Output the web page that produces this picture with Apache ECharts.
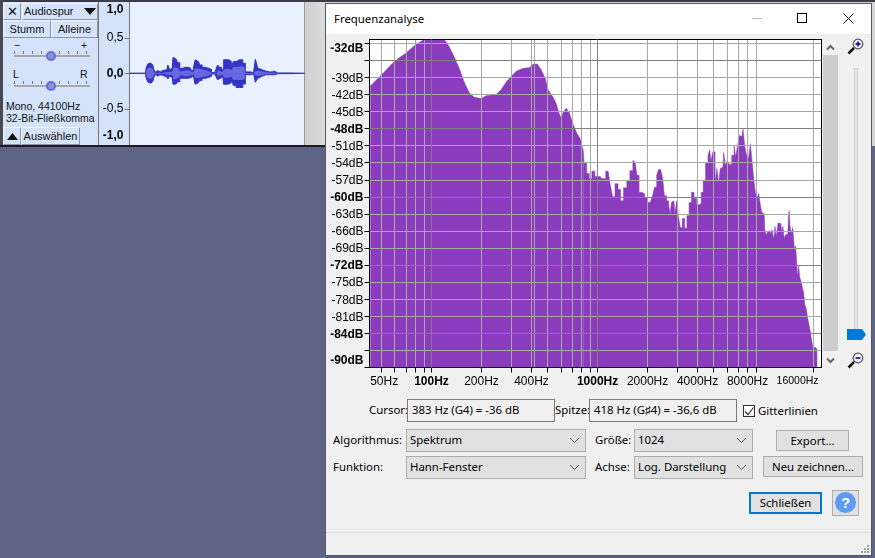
<!DOCTYPE html>
<html><head><meta charset="utf-8">
<script src="https://cdn.jsdelivr.net/npm/echarts@6/dist/echarts.min.js"></script>
<style>
html,body{margin:0;padding:0;width:875px;height:558px;overflow:hidden;background:#5f6486;}
.a{position:absolute;box-sizing:border-box;}
.t{position:absolute;white-space:nowrap;font:11.4px/16px "Noto Sans",sans-serif;color:#000;}
.l{position:absolute;white-space:nowrap;font:10.5px/14px "Liberation Sans",sans-serif;color:#111;}
.btn{position:absolute;box-sizing:border-box;background:#e1e1e1;border:1px solid #adadad;font:11.4px/19px "Noto Sans",sans-serif;text-align:center;}
.sel{position:absolute;box-sizing:border-box;background:#e1e1e1;border:1px solid #adadad;font:11.4px/20px "Noto Sans",sans-serif;padding-left:3px;}
.sel svg{position:absolute;right:5px;top:7px;}
.tb{position:absolute;box-sizing:border-box;background:#d4e3fa;border:1px solid #f4f7fd;border-right-color:#8d94a4;border-bottom-color:#8d94a4;text-align:center;font:11px/17px "Liberation Sans",sans-serif;color:#111;}
.box{position:absolute;box-sizing:border-box;background:#f0f0f0;border:1px solid #7a7a7a;font:11.4px/20px "Noto Sans",sans-serif;padding-left:4px;white-space:nowrap;}
.track{position:absolute;height:2px;background:#a8a8a8;}
.marks{position:absolute;height:3px;background:repeating-linear-gradient(90deg,#777 0 1px,transparent 1px 9px);}
.thumb{position:absolute;width:10px;height:10px;border-radius:50%;background:#8f95c7;border:2px solid #5f6fe0;box-sizing:border-box;}
</style></head><body>
<!-- track strip -->
<div class="a" style="left:0;top:0;width:875px;height:146px;background:#d6d6d6;"></div>
<div class="a" style="left:0;top:0;width:875px;height:2px;background:#3c3c46;"></div>
<div class="a" style="left:0;top:0;width:3px;height:146px;background:#4a4a55;"></div>
<div class="a" style="left:3px;top:2px;width:96px;height:143px;background:#d4e3fa;"></div>
<div class="a" style="left:99px;top:2px;width:30px;height:143px;background:#d4e3fa;"></div>
<div class="a" style="left:129px;top:2px;width:176px;height:143px;background:#e8f1fd;border-left:1px solid #777;border-right:1px solid #999;"></div>
<div class="a" style="left:98px;top:2px;width:1px;height:143px;background:#777;"></div>
<div class="a" style="left:305px;top:2px;width:21px;height:143px;background:linear-gradient(90deg,#d0d0d0,#dcdcdc);"></div>
<div class="a" style="left:0;top:145px;width:330px;height:2px;background:#1c1c22;"></div>
<div class="tb" style="left:3px;top:3px;width:18px;height:17px;font-size:13px;line-height:15px;">✕</div>
<div class="tb" style="left:22px;top:3px;width:76px;height:17px;text-align:left;padding-left:1px;line-height:15px;">Audiospur</div>
<svg class="a" style="left:84px;top:8px" width="12" height="7"><polygon points="0,0 12,0 6,7" fill="#111"/></svg>
<div class="tb" style="left:3px;top:20px;width:48px;height:18px;">Stumm</div>
<div class="tb" style="left:51px;top:20px;width:47px;height:18px;">Alleine</div>
<div class="l" style="left:14px;top:38px;">−</div><div class="l" style="left:81px;top:38px;">+</div>
<div class="marks" style="left:14px;top:51px;width:76px;"></div><div class="track" style="left:14px;top:55px;width:76px;"></div>
<div class="thumb" style="left:46px;top:51px;"></div>
<div class="l" style="left:13px;top:67px;">L</div><div class="l" style="left:80px;top:67px;">R</div>
<div class="marks" style="left:14px;top:81px;width:76px;"></div><div class="track" style="left:14px;top:85px;width:76px;"></div>
<div class="thumb" style="left:46px;top:81px;"></div>
<div class="l" style="left:6px;top:99px;">Mono, 44100Hz</div>
<div class="l" style="left:6px;top:111px;">32-Bit-Fließkomma</div>
<div class="tb" style="left:3px;top:127px;width:18px;height:18px;"></div>
<svg class="a" style="left:7px;top:133px" width="11" height="7"><polygon points="0,7 11,7 5.5,0" fill="#111"/></svg>
<div class="tb" style="left:21px;top:127px;width:59px;height:18px;">Auswählen</div>

<!-- dialog -->
<div class="a" style="left:325px;top:3px;width:547px;height:553px;background:#f0f0f0;border:1px solid #55565e;"></div>
<div class="a" style="left:326px;top:4px;width:545px;height:30px;background:#fff;"></div>
<div class="t" style="left:334px;top:11px;">Frequenzanalyse</div>
<div class="a" style="left:752px;top:18px;width:10px;height:1px;background:#bbb;"></div>
<div class="a" style="left:797px;top:13px;width:10px;height:10px;border:1px solid #000;"></div>
<svg class="a" style="left:843px;top:13px" width="11" height="11"><path d="M0.5,0.5L10.5,10.5M10.5,0.5L0.5,10.5" stroke="#111" fill="none"/></svg>

<!-- scroll and zoom -->
<div class="a" style="left:823px;top:55px;width:15px;height:296px;background:#cdcdcd;"></div>
<svg class="a" style="left:826px;top:44px" width="9" height="7"><path d="M1,5.5L4.5,2L8,5.5" stroke="#666" stroke-width="2" fill="none"/></svg>
<svg class="a" style="left:826px;top:357px" width="9" height="7"><path d="M1,1.5L4.5,5L8,1.5" stroke="#666" stroke-width="2" fill="none"/></svg>
<div class="a" style="left:854px;top:68px;width:4px;height:262px;background:#e4e6e6;border:1px solid #d2d6d4;"></div>
<svg class="a" style="left:847px;top:329px" width="20" height="11"><polygon points="0,0 15,0 19,5.5 15,11 0,11" fill="#0078d7"/></svg>
<svg class="a" style="left:847px;top:38px" width="17" height="17"><path d="M1.5,15.5L7,10" stroke="#111" stroke-width="2.5"/><circle cx="11" cy="6" r="4.8" fill="#f4f4f4" stroke="#555" stroke-width="1.2"/><path d="M8.5,6H13.5M11,3.5V8.5" stroke="#1a1ab0" stroke-width="1.8"/></svg>
<svg class="a" style="left:847px;top:352px" width="17" height="17"><path d="M1.5,15.5L7,10" stroke="#111" stroke-width="2.5"/><circle cx="11" cy="6" r="4.8" fill="#f4f4f4" stroke="#555" stroke-width="1.2"/><path d="M8.5,6H13.5" stroke="#1a1ab0" stroke-width="1.8"/></svg>

<!-- controls -->
<div class="t" style="left:369px;top:402px;">Cursor:</div>
<div class="box" style="left:407px;top:399px;width:148px;height:23px;">383 Hz (G4) = -36 dB</div>
<div class="t" style="left:555px;top:402px;">Spitze:</div>
<div class="box" style="left:589px;top:399px;width:148px;height:23px;">418 Hz (G♯4) = -36,6 dB</div>
<div class="a" style="left:743px;top:405px;width:12px;height:12px;background:#fff;border:1px solid #333;"></div>
<svg class="a" style="left:744px;top:406px" width="11" height="11"><path d="M1,5.5L4,8.5L9.5,1.5" stroke="#333" stroke-width="1.2" fill="none"/></svg>
<div class="t" style="left:758px;top:403px;">Gitterlinien</div>
<div class="t" style="left:333px;top:432px;">Algorithmus:</div>
<div class="sel" style="left:406px;top:429px;width:180px;height:23px;">Spektrum<svg width="11" height="7"><path d="M1,1L5.5,5.5L10,1" stroke="#555" fill="none"/></svg></div>
<div class="t" style="left:333px;top:459px;">Funktion:</div>
<div class="sel" style="left:406px;top:456px;width:180px;height:23px;">Hann-Fenster<svg width="11" height="7"><path d="M1,1L5.5,5.5L10,1" stroke="#555" fill="none"/></svg></div>
<div class="t" style="left:595px;top:432px;">Größe:</div>
<div class="sel" style="left:634px;top:429px;width:119px;height:23px;">1024<svg width="11" height="7"><path d="M1,1L5.5,5.5L10,1" stroke="#555" fill="none"/></svg></div>
<div class="t" style="left:595px;top:459px;">Achse:</div>
<div class="sel" style="left:634px;top:456px;width:119px;height:23px;">Log. Darstellung<svg width="11" height="7"><path d="M1,1L5.5,5.5L10,1" stroke="#555" fill="none"/></svg></div>
<div class="btn" style="left:776px;top:430px;width:73px;height:21px;">Export...</div>
<div class="btn" style="left:763px;top:456px;width:100px;height:21px;">Neu zeichnen...</div>
<div class="btn" style="left:749px;top:492px;width:73px;height:22px;border:2px solid #0078d7;line-height:18px;">Schließen</div>
<div class="a" style="left:832px;top:490px;width:27px;height:26px;background:#e1e1e1;border:1px solid #adadad;"></div>
<div class="a" style="left:835px;top:492px;width:21px;height:21px;border-radius:50%;background:#5c9cf5;color:#fff;font:bold 15px/21px 'Liberation Sans',sans-serif;text-align:center;">?</div>
<div class="a" style="left:326px;top:532px;width:545px;height:1px;background:#dcdcdc;"></div>
<svg class="a" style="left:860px;top:544px" width="10" height="10"><g fill="#a0a0a0"><rect x="7" y="1" width="2" height="2"/><rect x="4" y="4" width="2" height="2"/><rect x="7" y="4" width="2" height="2"/><rect x="1" y="7" width="2" height="2"/><rect x="4" y="7" width="2" height="2"/><rect x="7" y="7" width="2" height="2"/></g></svg>

<div id="main" style="position:absolute;left:0;top:0;width:875px;height:558px;"></div>
<script>
// Spectrum outline
const spectrumHz = [42.8,49.8,59.6,69.5,79.8,89.2,95.5,106.7,119.2,127.8,137,146.8,157.3,168.6,180.7,199,213.4,245,263,282,302,324,357,387,410,433,458,484,504,540,563,587,604,621,647,674,703,743,786,819,842,878,903,945,981,1037,1081,1158,1219,1242,1306,1349,1400,1466,1534,1594,1667,1700,1749,1805,1890,1954,2016,2123,2162,2243,2294,2359,2439,2493,2553,2649,2709,2763,2800,2880,2961,3027,3099,3187,3290,3401,3498,3610,3747,3869,4016,4147,4262,4384,4550,4698,4765,4851,5034,5155,5299,5418,5526,5680,5811,5946,6115,6285,6554,6707,6861,7053,7219,7392,7629,7738,8032,8179,8448,8614,8800,9011,9229,9434,9619,9837,10067,10253,10451,10835,11091,11360,11622,11776,12013,12397,12691,12928,13158,13414,13658,13990,14182,14298,14502,14784,15117,15475,15629,15846,16064,16358,16589,16986,17229,17600,17779,18202,18611,18982,19315,19674,20134,20429,20902,21000];
const spectrumDb = [-40.5,-38.6,-36.2,-34.8,-33.3,-32.4,-32.2,-32.1,-32.3,-33.6,-35.4,-37.4,-39.8,-41.7,-42.5,-42.7,-42.2,-42,-41.1,-39.8,-38.8,-37.9,-37.4,-37.3,-36.65,-36.65,-37.7,-39.2,-41.2,-42.5,-43.6,-45.4,-46.2,-45.1,-44.4,-45.1,-46.8,-48.6,-49.8,-51.8,-54.1,-55.9,-56.8,-55.5,-56.4,-56.4,-56.8,-55.5,-57.7,-60,-57.7,-58.7,-60.7,-58.4,-57.1,-55.4,-53.6,-53.9,-56.2,-59.2,-59.5,-60.1,-61,-61,-59.8,-58.3,-56.2,-55.2,-54.9,-56.8,-59.8,-60.7,-61.5,-63,-61,-60.7,-63,-60.7,-63.3,-65.4,-63.8,-65.5,-63.3,-61,-59.2,-60.3,-61.4,-61.2,-59.2,-57.1,-54.1,-52.7,-51.7,-53.8,-52.1,-57.4,-55,-57.7,-55,-54.8,-52.2,-54.5,-53.6,-54.3,-52.7,-51,-53,-51,-49.2,-49.4,-48.1,-51,-52.7,-53.2,-50.7,-54.1,-56.8,-59.2,-60.1,-59.4,-61.2,-62.7,-63,-65.8,-66.7,-66,-66.7,-65.8,-67.5,-65.2,-67.1,-64.6,-64.7,-66.1,-65.2,-67.3,-66.7,-66.5,-63.6,-62.4,-65.1,-66.5,-65.4,-69.1,-68.6,-70.7,-74.1,-72,-74.1,-74.9,-76,-76.9,-79,-79.5,-81.3,-82.7,-83.9,-85.4,-87,-86.4,-86.7,-91];
// Above this frequency the reference shows separate columns, below it a smooth outline
const columnsFromHz = 819;

// Axis ticks and labels of the spectrum
const hzMin = 42.33, hzMax = 22286, dbMin = -90, dbMax = -32.33;
const hzTicks = [50,60,70,80,90,100,200,300,400,500,600,700,800,900,1000,2000,3000,4000,5000,6000,7000,8000,9000,20000];
const hzMinorLines = [50,60,70,80,90,200,300,400,418,500,600,700,800,900,2000,3000,4000,5000,6000,7000,8000,9000,20000];
const hzMajorLines = [100,1000];
const hzLabelAt = [51.9,100,200,400,1000,2000,4000,8000,16000];
const hzLabels = ['{n|50Hz}','{b|100Hz}','{n|200Hz}','{n|400Hz}','{b|1000Hz}','{n|2000Hz}','{n|4000Hz}','{n|8000Hz}','{s|16000Hz}'];
const dbTicks = [-33,-36,-39,-42,-45,-48,-51,-54,-57,-60,-63,-66,-69,-72,-75,-78,-81,-84,-87,-90];
const dbMinorLines = [-33,-39,-42,-45,-51,-54,-57,-63,-66,-69,-75,-78,-81,-87];
const dbMajorLines = [-36,-48,-60,-72,-84];
const dbLabelAt = [-33.74,-39,-42,-45,-48,-51,-54,-57,-60,-63,-66,-69,-72,-75,-78,-81,-84,-88.6];
const dbLabels = ['{b|-32dB}','{n|-39dB}','{n|-42dB}','{n|-45dB}','{b|-48dB}','{n|-51dB}','{n|-54dB}','{n|-57dB}','{b|-60dB}','{n|-63dB}','{n|-66dB}','{n|-69dB}','{b|-72dB}','{n|-75dB}','{n|-78dB}','{n|-81dB}','{b|-84dB}','{b|-90dB}'];

// Waveform envelope of the audio track
const waveT =  [0,16,17,19.3,21,23.3,25.3,27.3,28.7,30.7,33.3,37.3,39.3,41,42.7,44.3,46.7,49.3,51.3,54.3,57.3,60,62.7,65,66.3,69,71.3,74,77.3,80.7,83.3,87.3,88.7,90.7,93.3,95,98.3,101,102.7,105,108.3,111.7,115,116.7,121.7,124,127.7,129,131.7,134.3,136.7,140,145,148.3,175];
const wavePeakUp=[0,0,.07,.13,.145,.117,.056,.01,.04,.02,.04,.05,.117,.05,.07,.225,.2,.15,.07,.085,.085,.07,.04,.07,.19,.165,.117,.085,.07,.056,.01,.01,.117,.085,.056,.19,.19,.165,.09,.165,.19,.19,.14,.02,.02,.005,.2,.07,.056,.04,.03,.02,.03,.005,0];
const wavePeakDn=[0,0,-.06,-.12,-.14,-.115,-.06,-.01,-.04,-.02,-.03,-.05,-.08,-.04,-.06,-.155,-.15,-.12,-.07,-.07,-.07,-.06,-.04,-.06,-.155,-.13,-.1,-.07,-.06,-.04,-.01,-.01,-.09,-.07,-.05,-.155,-.15,-.13,-.08,-.17,-.2,-.2,-.15,-.02,-.02,-.005,-.127,-.07,-.05,-.03,-.02,-.02,-.02,-.005,0];
const waveRmsUp=[0,0,.03,.07,.08,.06,.02,0,.01,0,.01,.02,.04,.02,.03,.08,.08,.06,.03,.04,.04,.03,.015,.03,.07,.065,.06,.05,.04,.02,0,0,.04,.03,.02,.06,.06,.05,.03,.09,.095,.095,.07,0,0,0,.03,.035,.03,.02,.015,.01,.008,0,0];
const waveRmsDn=[0,0,-.03,-.07,-.08,-.06,-.02,0,-.01,0,-.01,-.02,-.04,-.02,-.03,-.08,-.08,-.06,-.03,-.04,-.04,-.03,-.015,-.03,-.07,-.065,-.06,-.05,-.04,-.02,0,0,-.04,-.03,-.02,-.06,-.06,-.05,-.03,-.09,-.095,-.095,-.07,0,0,0,-.03,-.035,-.03,-.02,-.015,-.01,-.008,0,0];
const ampTicks = [-0.5,0,0.5];
const ampLabelAt = [-0.883,-0.5,0,0.5,0.89];
const ampLabels = ['{b|-1,0}','{n|-0,5}','{b|0,0}','{n|0,5}','{b|1,0}'];

const rich = {
  n:{fontFamily:'Liberation Sans',fontSize:12,color:'#000'},
  b:{fontFamily:'Liberation Sans',fontSize:12,fontWeight:'bold',color:'#000'},
  s:{fontFamily:'Liberation Sans',fontSize:10.5,color:'#000'}
};
// custom labels get no index from the library, so look each label up by its value
const labelFor = (at,list) => v => {
  let best = 0;
  at.forEach((a,i) => { if (Math.abs(a-v) < Math.abs(at[best]-v)) best = i; });
  return list[best];
};
const hidden = {axisLine:{show:false},axisTick:{show:false},axisLabel:{show:false}};
const xBase = {type:'log',logBase:10,min:hzMin,max:hzMax,gridIndex:0,z:3};
const yBase = {type:'value',min:dbMin,max:dbMax,gridIndex:0,z:3};
const split = (c,on) => ({show:on,lineStyle:{color:c,width:1,type:'solid'}});
const spectrum = spectrumHz.map((f,i)=>[f,spectrumDb[i]]);
const purple = '#8b3bbd';

const option = {
  animation:false,
  grid:[
    {left:369.5,top:39.5,width:452,height:328,show:true,borderWidth:0,backgroundColor:'#fff'},
    {left:129.5,top:2.3,width:175,height:142,show:false}
  ],
  xAxis:[
    {...xBase,position:'bottom',axisLine:{show:true,onZero:false,lineStyle:{color:'#000'}},
     axisTick:{show:true,length:5,customValues:hzTicks,lineStyle:{color:'#000'}},
     axisLabel:{show:true,customValues:hzLabelAt,formatter:labelFor(hzLabelAt,hzLabels),rich,margin:8,hideOverlap:false},splitLine:{show:false}},
    {...xBase,position:'top',axisLine:{show:true,onZero:false,lineStyle:{color:'#000'}},axisTick:{show:false,customValues:hzMinorLines},axisLabel:{show:false},splitLine:split('#a6a9a4',true)},
    {...xBase,position:'top',...hidden,axisTick:{show:false,customValues:hzMajorLines},splitLine:split('#808080',true),z:4},
    {type:'value',min:0,max:175,gridIndex:1,show:false,splitLine:{show:false}}
  ],
  yAxis:[
    {...yBase,position:'left',axisLine:{show:true,onZero:false,lineStyle:{color:'#000'}},
     axisTick:{show:true,length:5,customValues:dbTicks,lineStyle:{color:'#000'}},
     axisLabel:{show:true,customValues:dbLabelAt,formatter:labelFor(dbLabelAt,dbLabels),rich,margin:6,padding:[2,0,0,0],hideOverlap:false},splitLine:{show:false}},
    {...yBase,position:'right',axisLine:{show:true,onZero:false,lineStyle:{color:'#000'}},axisTick:{show:false,customValues:dbMinorLines},axisLabel:{show:false},splitLine:split('#a6a9a4',true)},
    {...yBase,position:'right',...hidden,axisTick:{show:false,customValues:dbMajorLines},splitLine:split('#808080',true),z:4},
    {type:'value',min:-1,max:1,gridIndex:1,position:'left',axisLine:{show:false},
     axisTick:{show:true,length:5,customValues:ampTicks,lineStyle:{color:'#777'}},
     axisLabel:{show:true,customValues:ampLabelAt,formatter:labelFor(ampLabelAt,ampLabels),rich,margin:6,hideOverlap:false},splitLine:{show:false}}
  ],
  series:[
    {type:'line',name:'Spektrum tief',xAxisIndex:0,yAxisIndex:0,symbol:'none',z:2,clip:true,
     data:spectrum.filter(p=>p[0]<=columnsFromHz),
     lineStyle:{width:0.5,color:purple},areaStyle:{color:purple,opacity:1,origin:'start'}},
    {type:'line',name:'Spektrum hoch',step:'middle',xAxisIndex:0,yAxisIndex:0,symbol:'none',z:2,clip:true,
     data:spectrum.filter(p=>p[0]>=columnsFromHz),
     lineStyle:{width:0.5,color:purple},areaStyle:{color:purple,opacity:1,origin:'start'}},
    {type:'line',name:'Spitze oben',step:'middle',xAxisIndex:3,yAxisIndex:3,symbol:'none',data:waveT.map((t,i)=>[t,wavePeakUp[i]]),lineStyle:{width:1,color:'#3434c4'},areaStyle:{color:'#3434c4',opacity:1,origin:0}},
    {type:'line',name:'Spitze unten',step:'middle',xAxisIndex:3,yAxisIndex:3,symbol:'none',data:waveT.map((t,i)=>[t,wavePeakDn[i]]),lineStyle:{width:1,color:'#3434c4'},areaStyle:{color:'#3434c4',opacity:1,origin:0}},
    {type:'line',name:'RMS oben',step:'middle',xAxisIndex:3,yAxisIndex:3,symbol:'none',data:waveT.map((t,i)=>[t,waveRmsUp[i]]),lineStyle:{width:0},areaStyle:{color:'#6868e0',opacity:1,origin:0},z:3},
    {type:'line',name:'RMS unten',step:'middle',xAxisIndex:3,yAxisIndex:3,symbol:'none',data:waveT.map((t,i)=>[t,waveRmsDn[i]]),lineStyle:{width:0},areaStyle:{color:'#6868e0',opacity:1,origin:0},z:3}
  ]
};
const chart = echarts.init(document.getElementById('main'),null,{renderer:'canvas'});
chart.setOption(option);
</script>
</body></html>
